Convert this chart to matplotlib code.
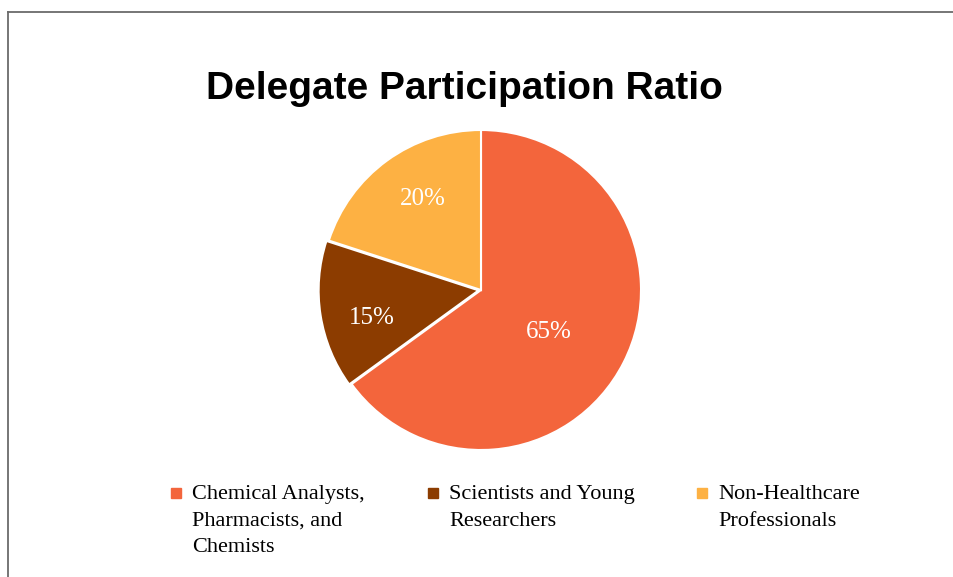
import matplotlib.pyplot as plt
import numpy as np
from matplotlib.patches import Rectangle
from matplotlib.lines import Line2D

W, H = 954, 577

title = "Delegate Participation Ratio"
categories = ["Chemical Analysts,\nPharmacists, and\nChemists",
              "Scientists and Young\nResearchers",
              "Non-Healthcare\nProfessionals"]
shares = [65, 15, 20]
colors = ["#F3653C", "#8C3C00", "#FDB143"]
explode = [0, 0.015, 0]
# label placement: radial distance and angular nudge (deg)
label_dist = [0.49, 0.70, 0.685]
label_nudge = [-3.5, 4.2, -4.1]

fig = plt.figure(figsize=(W / 100, H / 100), dpi=100)


def px(x, y):
    # pixel (from top-left) -> figure fraction
    return x / W, 1 - y / H


# frame lines (top and left)
fig.add_artist(Line2D([8 / W, 1], [1 - 12 / H] * 2, color="#6b6b6b", lw=1.3))
fig.add_artist(Line2D([8 / W] * 2, [1 - 12 / H, 0], color="#6b6b6b", lw=1.3))

fig.text(*px(464, 89), title, ha="center", va="center",
         fontsize=28, fontweight="bold", family="Liberation Sans")

# pie centre (481, 290), radius 160 px
cx, cy, r = 481, 290, 160
ax = fig.add_axes([(cx - 2.5 * r / 2) / W, (H - cy - 2.5 * r / 2) / H,
                   2.5 * r / W, 2.5 * r / H])
wedges, _ = ax.pie(shares, colors=colors, startangle=90, counterclock=False,
                   explode=explode, radius=1,
                   wedgeprops=dict(edgecolor="white", linewidth=1.5))
ax.set_xlim(-1.25, 1.25)
ax.set_ylim(-1.25, 1.25)
ax.set_aspect("equal")
ax.axis("off")

for w, s, d, n in zip(wedges, shares, label_dist, label_nudge):
    ang = np.deg2rad((w.theta1 + w.theta2) / 2 + n)
    ax.text(d * np.cos(ang), d * np.sin(ang), f"{s}%",
            ha="center", va="center_baseline", color="white", fontsize=18,
            family="Liberation Serif")

# legend
leg_x = [171, 428, 697]
for x, lab, c in zip(leg_x, categories, colors):
    fig.add_artist(Rectangle(px(x, 498), 10 / W, 10 / H, color=c,
                             transform=fig.transFigure))
    fig.text(*px(x + 21, 485), lab, ha="left", va="top", fontsize=16,
             family="Liberation Serif", linespacing=1.54)

fig.savefig("out.png", dpi=100)
